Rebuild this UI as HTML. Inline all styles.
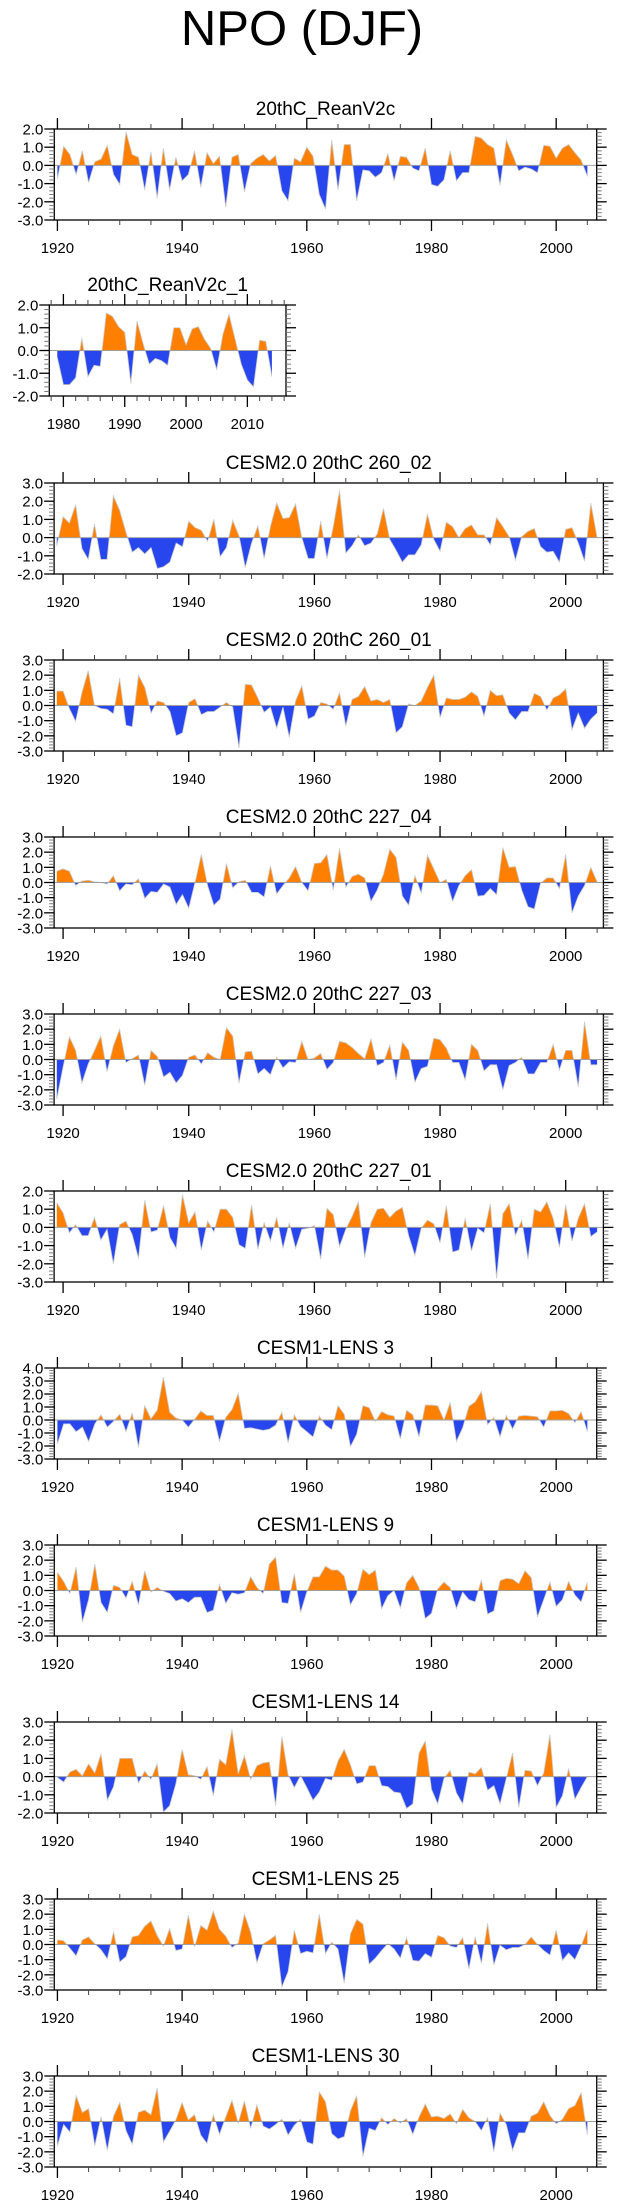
<!DOCTYPE html>
<html><head><meta charset="utf-8">
<style>
html,body{margin:0;padding:0;background:#fff;}
body{width:623px;height:2209px;overflow:hidden;font-family:"Liberation Sans",Arial,sans-serif;}
svg{display:block;}
</style></head>
<body>
<svg id="fig" width="623" height="2209" viewBox="0 0 623 2209" xmlns="http://www.w3.org/2000/svg">
<text x="302" y="45" font-size="49" text-anchor="middle" font-family="Liberation Sans, sans-serif">NPO (DJF)</text>
</svg>
<script>
// ---- data (values per year) ----
const reanV2c = [-0.75,1.05,0.6,-0.5,0.8,-0.95,0.2,0.35,1.1,-0.5,-1.05,1.85,0.6,0.45,-1.35,0.75,-1.8,0.95,-1.35,0.45,-0.85,-0.5,0.8,-1.2,0.7,0.1,0.5,-2.3,0.45,0.6,-1.45,0.1,0.4,0.6,0.25,0.55,-1.4,-1.95,0.4,0.2,1.0,0.5,-1.6,-2.4,1.4,-1.35,1.15,1.15,-1.95,-0.25,-0.3,-0.65,-0.4,0.65,-0.85,0.5,0.45,-0.15,-0.3,0.95,-1.05,-1.15,-0.8,0.8,-0.85,-0.4,-0.4,1.6,1.5,1.15,0.95,-1.1,1.4,0.6,-0.3,-0.1,-0.2,-0.4,1.1,1.05,0.4,0.95,1.15,0.7,0.3,-0.6];
const reanV2c1 = [-0.3,-1.5,-1.5,-1.2,0.55,-1.15,-0.65,-0.7,1.65,1.5,1.05,0.8,-1.45,1.3,0.3,-0.6,-0.35,-0.45,-0.65,1.0,1.0,0.25,0.95,1.05,0.5,0.1,-0.85,0.7,1.6,0.5,-0.6,-1.3,-1.6,0.45,0.4,-1.15];
const cesm2_260_02 = [-0.45,1.15,0.8,1.8,-0.6,-1.2,0.75,-1.2,-1.2,2.3,1.5,0.3,-0.8,-0.55,-0.9,-0.55,-1.7,-1.6,-1.35,-0.3,-0.5,0.9,0.55,0.4,-0.2,1.0,-1.05,-0.55,0.95,0.1,-1.65,-0.3,0.65,-1.15,0.6,1.9,1.05,1.1,1.85,0.0,-1.15,-1.15,0.9,-1.15,0.6,2.6,-0.85,-0.45,0.15,-0.45,-0.3,0.2,1.6,-0.1,-0.7,-1.35,-0.95,-0.95,-0.4,1.3,-0.1,-0.75,0.85,0.6,0.0,0.5,0.7,0.15,0.15,-0.4,1.1,0.6,0.05,-1.25,0.05,0.35,0.5,-0.5,-0.8,-0.75,-1.35,0.45,0.55,-0.3,-1.3,1.9,0.0];
const cesm2_260_01 = [0.95,0.95,-0.2,-1.05,0.85,2.3,0.0,-0.2,-0.25,-0.55,1.8,-1.3,-1.4,2.0,1.2,-0.5,0.3,0.2,-0.4,-2.0,-1.8,0.2,0.45,-0.6,-0.4,-0.4,-0.1,0.2,-0.1,-2.8,1.4,1.35,0.5,-0.45,-0.1,-1.5,-0.1,-2.1,0.3,1.3,-0.9,-0.7,0.2,0.1,-0.25,0.85,-1.35,0.4,0.6,1.25,0.3,0.4,0.2,0.4,-1.8,-1.4,0.1,0.0,0.3,1.2,2.0,-0.8,0.5,0.4,0.4,0.55,0.9,0.6,-0.7,1.0,0.65,0.7,-0.5,-0.95,-0.4,-0.4,0.8,0.6,-0.3,0.5,0.7,1.1,-1.6,-0.5,-1.5,-0.9,-0.5];
const cesm2_227_04 = [0.75,0.9,0.75,-0.2,0.1,0.15,0.05,0.0,-0.1,0.45,-0.55,-0.1,-0.15,0.25,-1.05,-0.6,-0.65,-0.1,-0.3,-1.45,-0.8,-1.7,0.0,1.85,-0.2,-1.5,-1.1,1.25,-0.35,0.05,0.15,-0.65,-0.65,-0.95,1.1,-0.75,-0.2,0.3,1.05,0.0,-0.55,1.25,1.3,1.85,-0.5,2.25,-0.3,0.4,0.55,0.3,-1.25,-0.5,0.55,2.2,1.65,-0.9,-1.5,0.45,-0.7,1.8,0.9,0.0,0.2,-1.25,-0.2,0.45,0.85,-0.9,-0.85,-0.4,-0.8,2.3,1.0,1.05,-0.5,-1.6,-1.75,-0.05,0.3,0.3,-0.4,1.85,-2.0,-0.9,-0.2,1.0,0.05];
const cesm2_227_03 = [-2.6,-0.5,1.5,0.6,-1.55,-0.3,0.6,1.55,-0.8,0.9,2.0,-0.2,0.05,0.3,-1.7,0.6,0.2,-1.15,-0.85,-1.55,-1.05,0.15,0.3,-0.3,0.45,0.15,0.0,2.1,1.55,-1.55,0.5,0.55,-0.95,-0.6,-1.0,0.15,-0.55,-0.15,-0.2,1.2,0.0,0.1,0.4,-0.65,-0.2,1.2,1.1,0.8,0.4,0.05,1.35,-0.4,-0.2,0.95,-1.35,1.15,0.6,-1.5,-0.6,-0.45,1.4,1.3,0.75,-0.2,-0.2,-1.35,1.0,0.6,-0.75,-0.35,-0.35,-2.0,-0.4,-0.2,0.15,-0.95,-0.95,-0.2,-0.2,1.0,-0.7,0.6,0.6,-1.8,2.5,-0.35,-0.35];
const cesm2_227_01 = [1.35,0.8,-0.3,0.15,-0.45,-0.45,0.55,-0.7,-0.1,-2.0,0.15,0.35,-0.4,-1.7,1.5,-0.25,-0.15,1.2,-0.55,-1.15,1.8,0.25,0.85,-1.25,0.35,-0.25,1.0,1.0,0.55,-0.95,-1.15,1.25,-1.2,0.25,-0.75,0.55,-1.15,0.25,-1.15,-0.1,-0.05,0.1,-1.75,1.05,0.7,-1.05,-0.1,0.6,1.4,-1.65,0.25,1.0,1.05,0.55,0.9,1.1,-0.45,-1.55,-0.05,0.4,0.2,-0.85,1.2,-1.35,-1.25,0.5,-1.3,-0.05,-0.3,1.3,-2.8,0.75,1.3,-0.45,0.4,-1.75,1.0,0.85,1.4,0.5,-1.1,1.25,-0.75,0.5,1.3,-0.5,-0.25];
const lens3 = [-1.85,-0.3,-0.3,-0.9,-0.55,-1.65,-0.3,0.4,-0.55,-0.1,0.45,-0.9,0.55,-2.1,1.1,0.1,0.75,3.3,0.6,0.15,0.0,-0.55,0.05,0.7,0.35,0.35,-1.65,0.2,0.8,2.05,-0.65,-0.6,-0.7,-0.8,-0.7,-0.4,0.6,-1.75,0.4,-0.5,-0.9,-1.3,0.3,-0.4,-0.75,1.1,0.45,-2.05,-1.1,1.1,0.95,-0.1,0.65,0.4,0.3,-1.45,0.75,0.4,-1.3,1.15,1.15,1.1,0.0,1.35,-1.65,-0.6,1.05,1.4,2.2,-0.35,0.2,-1.3,0.35,-0.7,0.3,0.35,0.3,0.25,-0.55,0.7,0.7,0.75,0.5,-0.2,0.65,-0.9];
const lens9 = [1.2,0.6,-0.2,1.55,-2.1,-0.6,1.75,-0.8,-1.45,0.35,0.2,-0.5,0.6,-0.95,1.3,-0.1,0.2,-0.05,-0.2,-0.7,-0.55,-0.8,-0.45,-0.45,-1.45,-1.3,0.4,-0.85,-0.15,-0.25,-0.15,0.9,0.2,-0.2,1.75,2.2,-0.8,-0.85,1.1,-1.45,-0.1,0.9,0.9,1.6,1.35,1.35,0.95,-0.95,-0.2,1.4,1.05,1.35,-1.2,-0.35,0.0,-1.15,0.5,1.0,0.2,-1.85,-1.5,0.1,0.55,0.2,-1.2,-0.1,-0.6,-0.75,0.7,-1.55,-1.35,0.65,0.8,0.75,0.45,1.3,0.85,-1.75,-0.6,0.55,-1.05,-0.6,0.6,-0.3,-0.75,0.55];
const lens14 = [-0.05,-0.3,0.25,0.4,0.05,0.7,0.2,1.25,-1.3,-0.55,1.0,1.0,1.0,-0.35,0.3,-0.15,0.7,-1.95,-1.6,-0.4,1.5,0.1,0.05,-0.15,0.55,-1.05,0.95,0.65,2.6,0.15,1.15,-0.15,0.6,0.75,0.8,-1.6,2.2,0.1,-0.6,0.05,-0.6,-1.3,-0.85,-0.1,-0.2,0.85,1.5,0.65,-0.4,-0.3,0.6,0.6,-0.5,-0.55,-0.85,-0.9,-1.75,-1.5,1.3,1.95,-0.7,-1.5,-0.1,0.35,-0.9,-1.5,0.25,0.15,0.5,-0.75,-0.5,-1.5,-0.1,1.3,-1.7,0.35,0.3,-0.5,0.2,2.3,-1.7,-1.05,0.45,-1.25,-0.6,0.0];
const lens25 = [0.3,0.25,-0.25,-0.75,0.3,0.5,0.05,-0.35,-0.95,0.85,-1.15,-0.8,0.5,0.6,1.2,1.55,0.6,-0.1,1.05,-0.4,-0.3,1.95,-0.15,1.25,0.95,2.2,1.0,0.55,-0.2,0.1,2.0,0.8,-1.2,0.05,0.3,0.6,-2.8,-1.8,0.95,-0.6,-0.45,-0.55,2.0,-0.6,0.15,-0.3,-2.55,0.7,1.65,1.35,-1.3,-0.9,-0.4,0.05,-0.3,-0.9,0.45,-1.05,-1.1,-0.6,-0.85,0.6,0.45,-0.1,-0.2,0.45,-1.6,0.5,-1.25,1.4,-1.35,-0.05,-0.35,-0.2,-0.2,0.0,0.5,0.0,-0.4,-0.7,0.95,-1.05,-0.55,-1.0,-0.1,1.0];
const lens30 = [-1.6,-0.2,-0.7,1.7,0.6,0.85,-1.6,0.3,-1.9,0.35,1.25,-0.6,-1.5,0.6,0.75,0.45,2.2,-1.35,-0.65,0.1,1.25,0.1,0.45,-0.9,-1.45,0.45,-0.85,0.3,1.4,-0.1,1.35,-0.45,1.1,-0.3,-0.5,-0.2,0.15,-0.9,-0.25,0.15,-1.35,-1.5,1.95,1.3,-0.8,-1.15,-1.0,0.7,1.7,-2.3,-0.45,-0.6,0.25,-0.2,0.2,-0.1,0.2,-0.85,0.3,1.15,0.3,0.35,0.2,0.5,-0.15,0.8,0.25,0.0,-0.6,0.25,-2.0,0.55,-0.2,-1.9,-0.75,-0.75,0.35,0.55,1.3,0.4,-0.15,0.15,0.85,1.05,1.9,-0.9];

const panelTitles = ["20thC_ReanV2c","20thC_ReanV2c_1","CESM2.0 20thC 260_02","CESM2.0 20thC 260_01","CESM2.0 20thC 227_04","CESM2.0 20thC 227_03","CESM2.0 20thC 227_01","CESM1-LENS 3","CESM1-LENS 9","CESM1-LENS 14","CESM1-LENS 25","CESM1-LENS 30"];
const panelSeries = [reanV2c,reanV2c1,cesm2_260_02,cesm2_260_01,cesm2_227_04,cesm2_227_03,cesm2_227_01,lens3,lens9,lens14,lens25,lens30];
const startYears = [1920,1979,1919,1919,1919,1919,1919,1920,1920,1920,1920,1920];
const yMins = [-3,-2,-2,-3,-3,-3,-3,-3,-3,-2,-3,-3];
const yMaxs = [2,2,3,3,3,3,2,4,3,3,3,3];

const NS = "http://www.w3.org/2000/svg";
const svg = document.getElementById('fig');
function mk(tag, attrs, parent){
  const e = document.createElementNS(NS, tag);
  for (const k in attrs) e.setAttribute(k, attrs[k]);
  (parent||svg).appendChild(e);
  return e;
}
const ORANGE = "#ff8000", BLUE = "#2846ee";

panelTitles.forEach((title, i) => {
  const vals = panelSeries[i], y0v = startYears[i];
  let L, R, xa, xb, majX, minX;
  if (i === 1) { L = 49.3; R = 286; xa = 1977.7; xb = 2016.3; majX = 10; minX = 2; }
  else if (i >= 2 && i <= 6) { L = 54.1; R = 603.4; xa = 1918.57; xb = 2006.0; majX = 20; minX = 5; }
  else { L = 54.3; R = 596.7; xa = 1919.5; xb = 2006.5; majX = 20; minX = 5; }
  const T = (i === 1) ? 305 : 129 + 177 * i;
  const B = T + 91;
  const ymin = yMins[i], ymax = yMaxs[i];
  const sx = yr => L + (yr - xa) / (xb - xa) * (R - L);
  const sy = v => B - (v - ymin) / (ymax - ymin) * (B - T);

  const g = mk('g', {});
  
  

  const t = mk('text', {x: (L + R) / 2, y: T - 14, 'font-size': 19, 'text-anchor': 'middle'}, g);
  t.textContent = title;
  
  

  // clip paths
  const cid = 'c' + i;
  const defs = mk('defs', {}, g);
  const cpU = mk('clipPath', {id: cid + 'u'}, defs);
  mk('rect', {x: L, y: T, width: R - L, height: sy(0) - T}, cpU);
  const cpD = mk('clipPath', {id: cid + 'd'}, defs);
  mk('rect', {x: L, y: sy(0), width: R - L, height: B - sy(0)}, cpD);

  let d = 'M' + sx(y0v).toFixed(2) + ',' + sy(0).toFixed(2);
  let line = '';
  vals.forEach((v, k) => {
    const px = sx(y0v + k).toFixed(2), py = sy(v).toFixed(2);
    d += ' L' + px + ',' + py;
    line += (k ? ' L' : 'M') + px + ',' + py;
  });
  d += ' L' + sx(y0v + vals.length - 1).toFixed(2) + ',' + sy(0).toFixed(2) + ' Z';
  const pos = mk('path', {d: d, fill: ORANGE, 'clip-path': 'url(#' + cid + 'u)'}, g);
  
  
  const neg = mk('path', {d: d, fill: BLUE, 'clip-path': 'url(#' + cid + 'd)'}, g);
  
  
  const ln = mk('path', {d: line, fill: 'none', stroke: '#cccccc', 'stroke-width': 0.8}, g);
  
  
  const zl = mk('line', {x1: L, x2: R, y1: sy(0), y2: sy(0), stroke: '#a0a0a0', 'stroke-width': 1}, g);
  
  

  // frame
  const fr = mk('rect', {x: L, y: T, width: R - L, height: B - T, fill: 'none', stroke: '#000', 'stroke-width': 1.3}, g);
  
  

  // x ticks
  const firstMin = Math.ceil(xa / minX) * minX;
  for (let yr = firstMin; yr <= xb; yr += minX) {
    const x = sx(yr), major = yr % majX === 0;
    const len = major ? 11 : 5;
    mk('line', {x1: x, x2: x, y1: T, y2: T - len, stroke: major ? '#000' : '#444', 'stroke-width': major ? 1.3 : 1}, g);
    mk('line', {x1: x, x2: x, y1: B, y2: B + len, stroke: major ? '#000' : '#444', 'stroke-width': major ? 1.3 : 1}, g);
    if (major) {
      const lb = mk('text', {x: x, y: B + 33, 'font-size': 15, 'text-anchor': 'middle'}, g);
      lb.textContent = yr;
      
      
    }
  }
  // y ticks
  for (let v10 = ymin * 10; v10 <= ymax * 10; v10 += 2) {
    const v = v10 / 10, y = sy(v), major = v10 % 10 === 0;
    const len = major ? 10 : 5;
    mk('line', {x1: L, x2: L - len, y1: y, y2: y, stroke: major ? '#000' : '#777', 'stroke-width': major ? 1.3 : 1}, g);
    mk('line', {x1: R, x2: R + len, y1: y, y2: y, stroke: major ? '#000' : '#777', 'stroke-width': major ? 1.3 : 1}, g);
    if (major) {
      const lb = mk('text', {x: L - 11, y: y + 5.5, 'font-size': 15, 'text-anchor': 'end'}, g);
      lb.textContent = v.toFixed(1);
      
      
    }
  }
});
</script>
</body></html>
